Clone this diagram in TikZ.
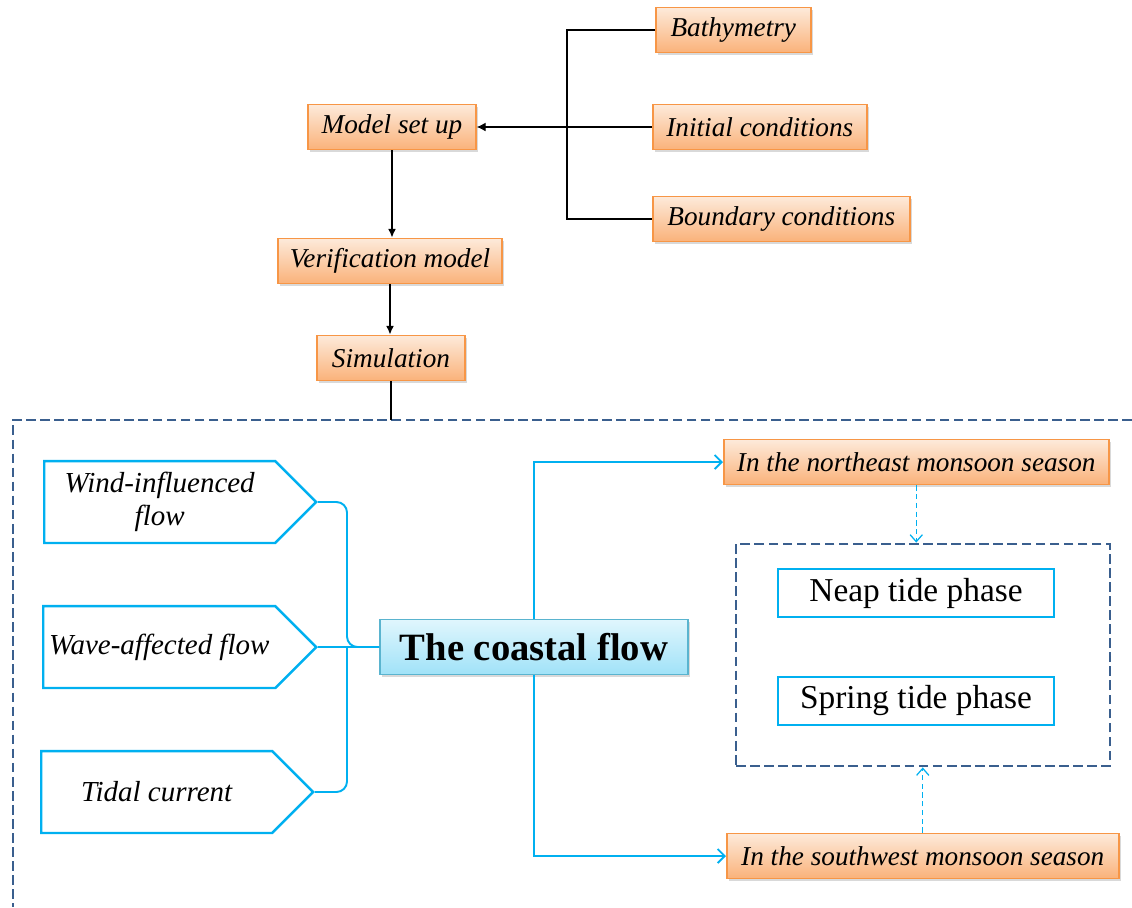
\documentclass[tikz,border=0pt]{standalone}
\usepackage{fontspec}
\setmainfont{Liberation Serif}
\usetikzlibrary{arrows.meta,shapes.symbols,shadows}

\definecolor{boxedge}{HTML}{F79646}
\definecolor{boxtop}{HTML}{FDEADA}
\definecolor{boxbot}{HTML}{FAB27A}
\definecolor{flowcyan}{HTML}{00B0F0}
\definecolor{framenavy}{HTML}{3A5F8E}
\definecolor{coasttop}{HTML}{E0F6FD}
\definecolor{coastbot}{HTML}{A0E2F8}
\definecolor{coastedge}{HTML}{5AB4CF}

\tikzset{
  stepbox/.style={draw=boxedge, line width=0.9pt, top color=boxtop, bottom color=boxbot,
    minimum height=0.9cm, inner xsep=3pt,
    font=\fontsize{15.5}{18}\selectfont\itshape,
    drop shadow={opacity=0.3, shadow xshift=1.2pt, shadow yshift=-1.2pt}},
  flowsign/.style={draw=flowcyan, line width=1.4pt, fill=white, shape=signal,
    signal to=east, signal pointer angle=90, minimum width=5.44cm,
    minimum height=1.64cm, anchor=west, align=center,
    font=\fontsize{16.5}{19}\selectfont\itshape},
  coastbox/.style={draw=coastedge, line width=0.8pt, top color=coasttop, bottom color=coastbot,
    minimum width=6.16cm, minimum height=1.1cm,
    font=\fontsize{22}{26}\selectfont\bfseries,
    drop shadow={opacity=0.3, shadow xshift=1.2pt, shadow yshift=-1.2pt}},
  tidebox/.style={draw=flowcyan, line width=1.6pt, fill=white,
    minimum width=5.52cm, minimum height=0.96cm,
    font=\fontsize{19}{22}\selectfont},
  phaseframe/.style={draw=framenavy, line width=1.6pt, dash pattern=on 5.5pt off 2.5pt,
    minimum width=7.48cm, minimum height=4.44cm},
  frameline/.style={draw=framenavy, line width=1.6pt, dash pattern=on 5.5pt off 2.5pt},
  linkline/.style={draw=black, line width=0.6pt},
  flowarrow/.style={draw=black, line width=1pt, -{Latex[length=5pt,width=4.5pt]}},
  cyanline/.style={draw=flowcyan, line width=1.1pt},
  dotarrow/.style={draw=flowcyan, line width=0.7pt, densely dashed,
    -{Straight Barb[length=4pt,width=7pt]}},
}

\begin{document}
\begin{tikzpicture}[x=0.02cm,y=-0.02cm]
\useasboundingbox (0,0) rectangle (1132,907);

% upper part
\node[stepbox, anchor=west, minimum width=3.1cm] (bathy) at (655,30) {Bathymetry};
\node[stepbox, anchor=west, minimum width=4.28cm] (init) at (652,127) {Initial conditions};
\node[stepbox, anchor=west, minimum width=5.14cm] (bound) at (652,219) {Boundary conditions};
\node[stepbox, minimum width=3.36cm] (setup) at (392,127) {Model set up};
\node[stepbox, minimum width=4.48cm] (verif) at (390,261) {Verification model};
\node[stepbox, minimum width=2.96cm] (sim) at (391,358) {Simulation};

\coordinate (hub) at (567,127);
\draw[linkline] (bathy.west) -| (hub) |- (bound.west);
\draw[linkline,-{Latex[length=5pt,width=5pt]}] (init.west) -- (setup.east);
\draw[flowarrow] (setup.south) -- (setup.south |- verif.north);
\draw[flowarrow] (verif.south) -- (verif.south |- sim.north);

% dashed frame
\coordinate (frametop) at (13,420);
\coordinate (frameright) at (1132,420);
\coordinate (framebottom) at (13,907);
\draw[frameline] (frameright) -- (frametop) -- (framebottom);
\draw[linkline] (sim.south) -- (sim.south |- frametop);

% lower part
\node[flowsign] (wind) at (43,502) {Wind-influenced\\flow};
\node[flowsign] (wave) at (42,647) {Wave-affected flow};
\node[flowsign] (tidal) at (40,792) {Tidal current};
\node[coastbox] (coast) at (534,647) {The coastal flow};

\coordinate (brace) at (347,647);
\draw[cyanline, rounded corners=6pt] (wind.east) -| (brace) -- (coast.west);
\draw[cyanline, rounded corners=6pt] (tidal.east) -| (brace);
\draw[cyanline] (wave.east) -- (coast.west);

\node[stepbox, anchor=west, minimum width=7.7cm] (ne) at (723,462) {In the northeast monsoon season};
\node[stepbox, anchor=west, minimum width=7.84cm] (sw) at (726,856) {In the southwest monsoon season};
\draw[cyanline, -{Straight Barb[length=4pt,width=8pt]}] (coast.north) |- (ne.west);
\draw[cyanline, -{Straight Barb[length=4pt,width=8pt]}] (coast.south) |- (sw.west);

\node[phaseframe] (phases) at (923,655) {};
\node[tidebox] (neap) at (916,593) {Neap tide phase};
\node[tidebox] (spring) at (916,701) {Spring tide phase};
\draw[dotarrow] (ne.south) -- (ne.south |- phases.north);
\draw[dotarrow] (sw.north) -- (sw.north |- phases.south);
\end{tikzpicture}
\end{document}
